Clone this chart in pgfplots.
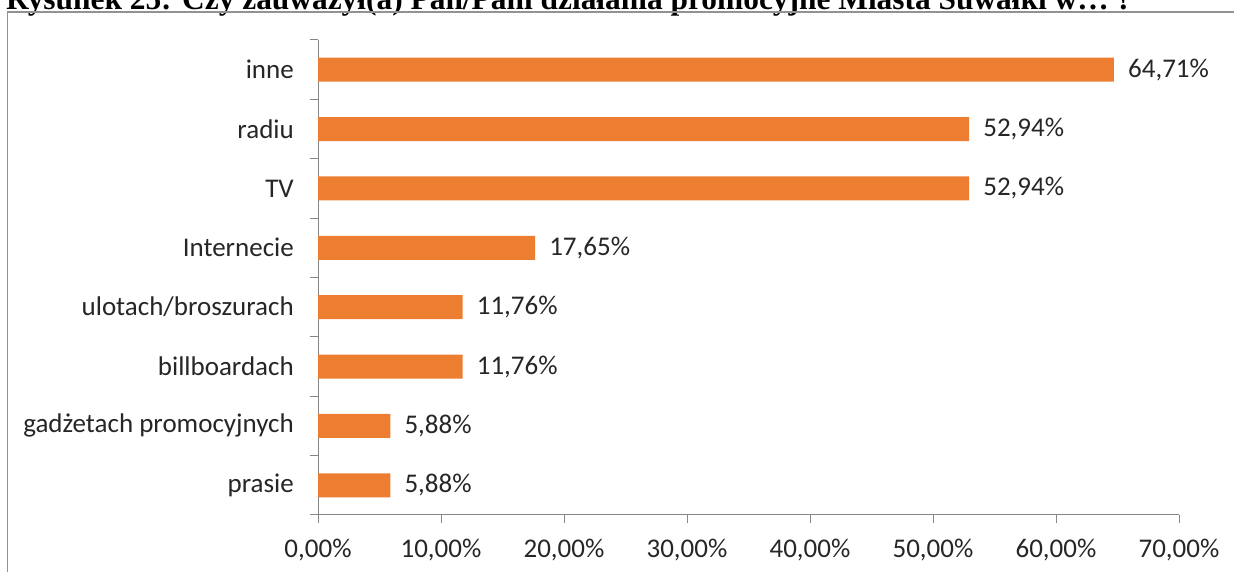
\documentclass[border=0pt]{standalone}
\usepackage{pgfplots}
\pgfplotsset{compat=1.18}
\usepackage{fontspec}
\setmainfont{Carlito}
\newfontfamily\titlefont{Liberation Serif}
\definecolor{bar}{HTML}{ED7D31}
\definecolor{txt}{HTML}{262626}
\definecolor{axl}{HTML}{868686}
\begin{document}
\begin{tikzpicture}[x=1pt,y=1pt]
\useasboundingbox (0,0) rectangle (1234,572);
\node[anchor=base west, inner sep=0pt, font=\titlefont\bfseries\fontsize{31.4}{31.4}\selectfont] at (6,562.5) {Rysunek 25: Czy zauważył(a) Pan/Pani działania promocyjne Miasta Suwałki w… ?};
\draw[color=axl!90, line width=1.5pt] (7.5,-5) -- (7.5,560) -- (1240,560);
\begin{axis}[
  at={(318pt,57pt)}, anchor=south west,
  scale only axis, width=861pt, height=475pt,
  xbar, bar width=24pt,
  xmin=0, xmax=70, ymin=0.5, ymax=8.5,
  axis x line*=bottom, axis y line*=left,
  axis line style={draw=axl, line width=1pt},
  every tick/.style={draw=axl, line width=1pt},
  tick align=outside,
  major tick length=8pt,
  xtick={0,10,...,70},
  xticklabels={{0,00\%},{10,00\%},{20,00\%},{30,00\%},{40,00\%},{50,00\%},{60,00\%},{70,00\%}},
  ytick={0.5,1.5,...,8.5},
  yticklabels={},
  extra y ticks={1,...,8},
  extra y tick labels={prasie,gadżetach promocyjnych,billboardach,ulotach/broszurach,Internecie,TV,radiu,inne},
  extra y tick style={tick style={draw=none}},
  tick label style={font=\fontsize{27}{31}\selectfont, text=txt},
  yticklabel style={inner sep=0pt, anchor=east, xshift=-16pt},
  xticklabel style={inner sep=0pt, anchor=north, yshift=-16pt},
  /pgf/number format/assume math mode=true,
  nodes near coords={\pgfmathprintnumber[fixed,fixed zerofill,precision=2,use comma]{\pgfplotspointmeta}\%},
  point meta=x,
  every node near coord/.append style={font=\fontsize{27}{31}\selectfont, text=txt, anchor=west, inner sep=0pt, xshift=14pt},
  clip=false,
]
\addplot[fill=bar, draw=none] coordinates {
  (5.88,1) (5.88,2) (11.76,3) (11.76,4) (17.65,5) (52.94,6) (52.94,7) (64.71,8)
};
\end{axis}
\end{tikzpicture}
\end{document}
